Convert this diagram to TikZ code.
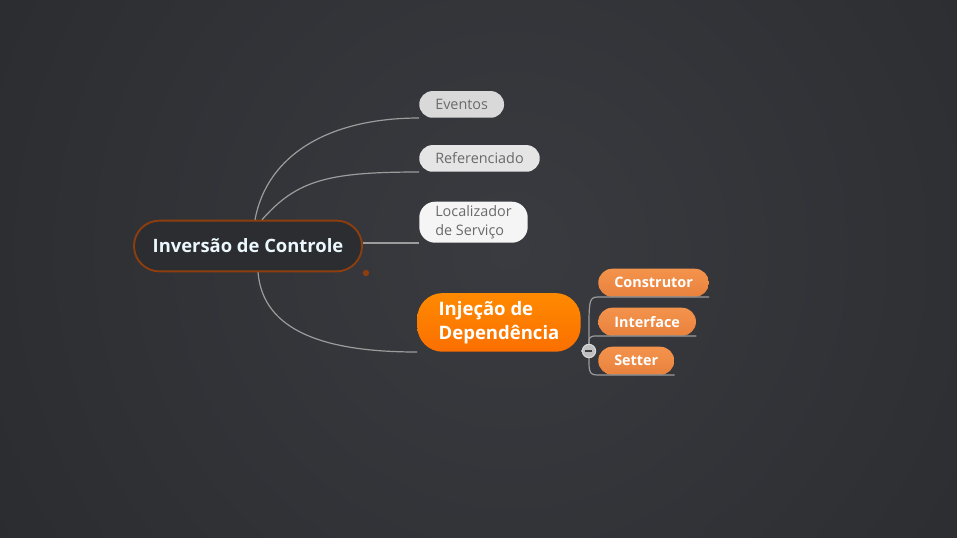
\documentclass[tikz,border=0pt]{standalone}
\usepackage{fontspec}
\setmainfont{Open Sans}
\usetikzlibrary{positioning}
\definecolor{bgin}{HTML}{3A3B40}
\definecolor{bgout}{HTML}{1D1E20}
\definecolor{rootfill}{HTML}{2C2D31}
\definecolor{rootline}{HTML}{8E3E0E}
\definecolor{wire}{HTML}{9C9C9C}
\definecolor{subtext}{HTML}{6A6A6A}
\definecolor{ditop}{HTML}{FF8A00}
\definecolor{dibot}{HTML}{FB6F00}
\definecolor{leaftop}{HTML}{F4934C}
\definecolor{leafbot}{HTML}{E8823E}

\begin{document}
\begin{tikzpicture}[x=0.75pt, y=-0.75pt,
root/.style={draw=rootline, line width=1.4pt, fill=rootfill, rounded corners=19pt,
minimum height=38pt, inner xsep=14pt, text=white!92!cyan,
font=\bfseries\fontsize{13.8}{16}\selectfont},
sub/.style={anchor=south west, rounded corners=10pt, minimum height=20pt,
inner xsep=12pt, inner ysep=3pt, text=subtext, align=left,
font=\fontsize{10.8}{14}\selectfont},
dinode/.style={anchor=south west, rounded corners=19pt, top color=ditop,
bottom color=dibot, minimum height=44pt, inner xsep=16pt, text=white, align=left,
font=\bfseries\fontsize{13.9}{18}\selectfont},
leaf/.style={anchor=south west, rounded corners=10.5pt, top color=leaftop,
bottom color=leafbot, minimum height=21pt, inner xsep=12pt, text=white,
font=\bfseries\fontsize{10.8}{13}\selectfont},
wire/.style={draw=wire, line width=0.9pt}]
\useasboundingbox (0,0) rectangle (957,537);
\fill[bgout] (0,0) rectangle (957,537);
\begin{scope}
\clip (0,0) rectangle (957,537);
\shade[inner color=bgin, outer color=bgout] (510,250) circle (1150);
\end{scope}

\node[root] (ioc) at (248,246) {Inversão de Controle};
\node[sub, fill=black!15] (ev) at (419,118) {Eventos};
\node[sub, fill=black!10] (ref) at (419,172) {Referenciado};
\node[sub, fill=black!4, rounded corners=12pt] (loc) at (419,243) {Localizador\\de Serviço};
\node[dinode] (di) at (417,352) {Injeção de\\Dependência};
\node[leaf] (ctor) at (598,297) {Construtor};
\node[leaf] (iface) at (598,336) {Interface};
\node[leaf] (setter) at (598,375) {Setter};
\fill[rootline] (366,273) circle (2.4pt);

% main branches
\draw[wire] (ioc.north) ++(7,0) .. controls +(12,-65) and +(-90,0) .. (ev.south west);
\draw[wire] (ioc.north) ++(14,0) .. controls +(35,-40) and +(-90,0) .. (ref.south west);
\draw[wire] (ioc.east) ++(0,-3) -- (loc.south west);
\draw[wire] (ioc.south) ++(10,0) .. controls +(5,60) and +(-90,0) .. (di.south west);
\draw[wire] (di.south east) ++(0,-1) -- ++(8,0) coordinate (fold);

% sub branches
\draw[wire] (fold) .. controls +(0,-50) and +(-10,0) .. (ctor.south west) -- (ctor.south east);
\draw[wire] (fold) .. controls +(0,-15) and +(-10,0) .. (iface.south west) -- (iface.south east);
\draw[wire] (fold) .. controls +(0,20) and +(-10,0) .. (setter.south west) -- (setter.south east);

\node[circle, draw=white!85!black, fill=black!25, line width=0.8pt, minimum size=10pt,
inner sep=0pt] (minus) at (fold) {};
\draw[black!75, line width=1.2pt] (minus.west) ++(3,0) -- ++(7.3,0);
\end{tikzpicture}
\end{document}
